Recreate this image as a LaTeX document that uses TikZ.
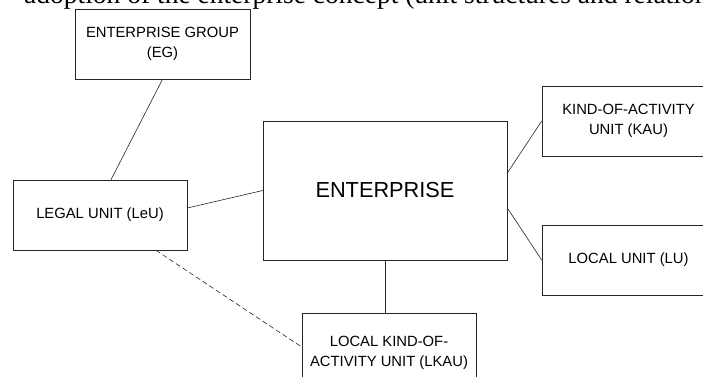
\documentclass[tikz,border=0pt]{standalone}
\usepackage{fontspec}
\setmainfont{Liberation Sans}
\newfontfamily\titlefont{Liberation Serif}
\tikzset{
  unitbox/.style={draw=black!85, line width=0.6pt, fill=white, inner sep=0pt,
    align=center, font=\fontsize{14.8}{19.5}\selectfont},
  link/.style={draw=black!85, line width=0.6pt},
}
\begin{document}
\begin{tikzpicture}[x=1pt,y=1pt]
\clip (0,0) rectangle (703,-376);
\node[anchor=base west, inner sep=0pt, font=\titlefont\fontsize{27.5}{30}\selectfont] (title) at (24,-3)
  {adoption of the enterprise concept (unit structures and relationships)};
\node[unitbox, minimum width=175, minimum height=70] (EG) at (162.5,-44) {ENTERPRISE GROUP\\(EG)};
\node[unitbox, minimum width=174, minimum height=70] (LeU) at (100,-215) {LEGAL UNIT (LeU)};
\node[unitbox, minimum width=244, minimum height=139, font=\fontsize{21.75}{26}\selectfont] (ENT) at (385,-190.5) {ENTERPRISE};
\node[unitbox, minimum width=173, minimum height=70] (KAU) at (628.5,-121) {KIND-OF-ACTIVITY\\UNIT (KAU)};
\node[unitbox, minimum width=173, minimum height=70] (LU) at (628.5,-260) {LOCAL UNIT (LU)};
\node[unitbox, minimum width=174, minimum height=80] (LKAU) at (389,-353) {LOCAL KIND-OF-\\ACTIVITY UNIT (LKAU)};
\draw[link] (EG.south) -- ([xshift=11pt]LeU.north);
\draw[link] ([yshift=7pt]LeU.east) -- (ENT.west);
\draw[link] ([yshift=17.5pt]ENT.east) -- (KAU.west);
\draw[link] ([yshift=-17.5pt]ENT.east) -- (LU.west);
\draw[link] (ENT.south) -- (ENT.south |- LKAU.north);
\draw[link, dashed, dash pattern=on 5pt off 3pt] ([xshift=56pt]LeU.south) -- ([yshift=6pt]LKAU.west);
\end{tikzpicture}
\end{document}
